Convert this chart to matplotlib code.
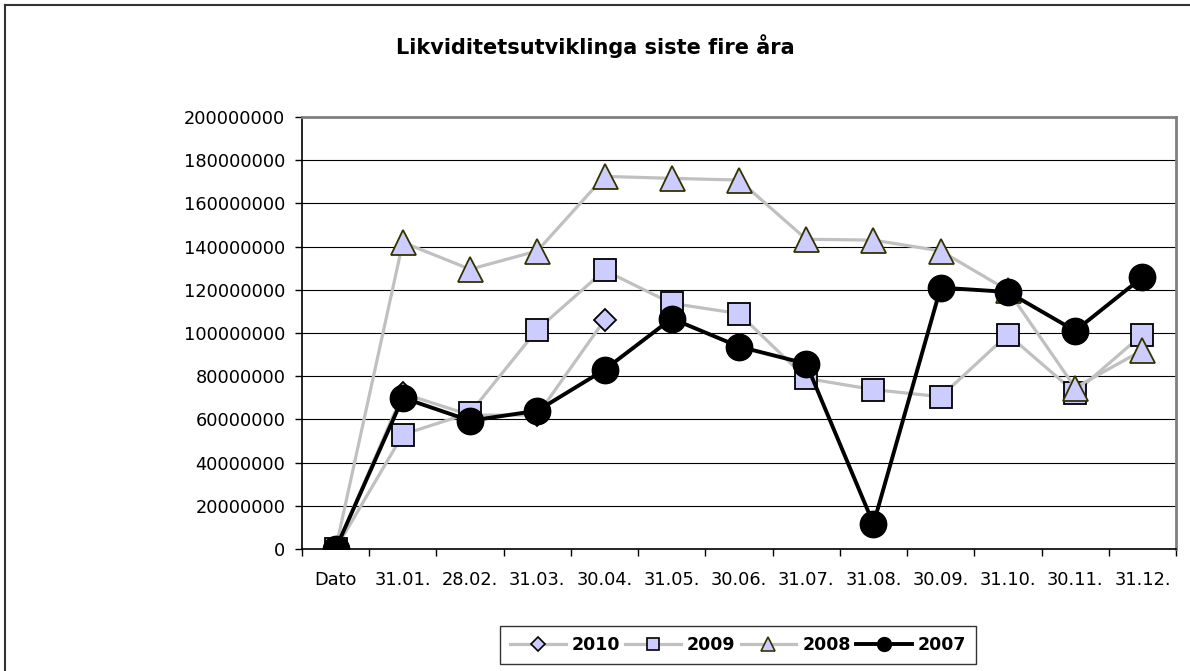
import numpy as np
import matplotlib
matplotlib.use("Agg")
import matplotlib.pyplot as plt
from matplotlib.lines import Line2D

plt.rcParams['font.family'] = ['DejaVu Sans']

categories = ["Dato", "31.01.", "28.02.", "31.03.", "30.04.", "31.05.", "30.06.",
              "31.07.", "31.08.", "30.09.", "31.10.", "30.11.", "31.12."]
nan = np.nan
v2010 = [0, 72000000, 62000000, 62000000, 106000000, nan, nan, nan, nan, nan, nan, nan, nan]
v2009 = [0, 53000000, 63000000, 101600000, 129000000, 113700000, 109000000,
         79000000, 73800000, 70500000, 99300000, 72400000, 99300000]
v2008 = [0, 142000000, 129500000, 138000000, 172500000, 171600000, 170800000,
         143400000, 143000000, 138000000, 119700000, 74700000, 92000000]
v2007 = [0, 70000000, 59400000, 64000000, 83000000, 106700000, 93700000,
         85800000, 11600000, 121000000, 119000000, 101000000, 125800000]
yticks = list(range(0, 200000001, 20000000))

fig = plt.figure(figsize=(11.9, 6.71), dpi=100)
ax = fig.add_axes([302/1190, 1-549/671, (1176-302)/1190, (549-117)/671])

x = np.arange(len(categories))
grey = "#c0c0c0"
fill = "#ccccff"

ax.plot(x, v2010, color=grey, lw=2.3, marker="D", ms=11.5, mfc=fill, mec="black", mew=1.3, zorder=3)
ax.plot(x, v2009, color=grey, lw=2.3, marker="s", ms=16, mfc=fill, mec="black", mew=1.3, zorder=4)
ax.plot(x, v2008, color=grey, lw=2.3, marker="^", ms=18, mfc=fill, mec="#333300", mew=1.3, zorder=5)
ax.plot(x, v2007, color="black", lw=2.8, marker="o", ms=19, mfc="black", mec="black", zorder=6)

ax.set_xlim(-0.5, len(categories) - 0.5)
ax.set_ylim(0, 200000000)
ax.set_yticks(yticks)
ax.set_yticklabels([str(t) for t in yticks], fontsize=12.8)
ax.yaxis.grid(True, color="black", lw=0.8)
ax.set_axisbelow(True)

# category labels between the tick marks, like Excel
ax.set_xticks(np.arange(-0.5, len(categories), 1.0))
ax.set_xticklabels([])
ax.set_xticks(x, minor=True)
ax.set_xticklabels(categories, minor=True, fontsize=12.8)
ax.tick_params(axis="x", which="major", direction="out", length=5, width=1, color="black")
ax.tick_params(axis="x", which="minor", length=0, pad=16)
ax.tick_params(axis="y", direction="out", length=5, width=1, pad=7)

for s in ["top", "right"]:
    ax.spines[s].set_color("#808080")
    ax.spines[s].set_linewidth(2)
for s in ["left", "bottom"]:
    ax.spines[s].set_color("black")
    ax.spines[s].set_linewidth(1.2)

fig.text(0.5, 1-46/671, "Likviditetsutviklinga siste fire åra", ha="center", va="center",
         fontsize=15, fontweight="bold")

handles = [
    Line2D([], [], color=grey, lw=2.3, marker="D", ms=7, mfc=fill, mec="black", mew=1.2),
    Line2D([], [], color=grey, lw=2.3, marker="s", ms=9, mfc=fill, mec="black", mew=1.2),
    Line2D([], [], color=grey, lw=2.3, marker="^", ms=10, mfc=fill, mec="#333300", mew=1.2),
    Line2D([], [], color="black", lw=2.8, marker="o", ms=10, mfc="black", mec="black"),
]
leg = fig.legend(handles, ["2010", "2009", "2008", "2007"], loc="center",
                 bbox_to_anchor=(738/1190, 1-645/671), ncol=4, frameon=True,
                 fancybox=False, edgecolor="black", prop={"weight": "bold", "size": 12.5},
                 handlelength=3.2, columnspacing=0.3, handletextpad=0.35, borderpad=0.55)
leg.get_frame().set_linewidth(1.0)

# outer chart border (right/bottom edges fall outside the picture)
fig.add_artist(Line2D([5/1190, 5/1190], [1-5/671, 0], color="#333333", lw=1.5))
fig.add_artist(Line2D([5/1190, 1], [1-5/671, 1-5/671], color="#333333", lw=1.5))

fig.savefig("out.png", dpi=100)
